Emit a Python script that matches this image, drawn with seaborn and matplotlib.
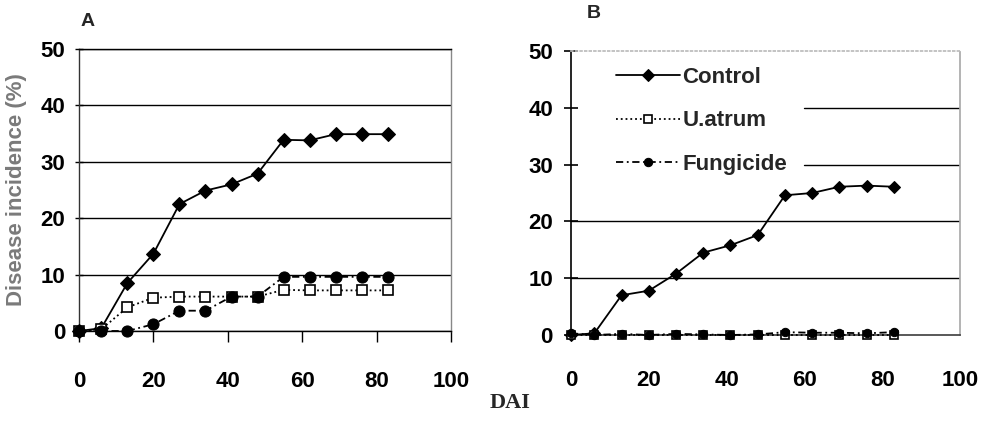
import matplotlib
matplotlib.use("Agg")
import matplotlib.pyplot as plt
import seaborn as sns
import pandas as pd

days = [0, 6, 13, 20, 27, 34, 41, 48, 55, 62, 69, 76, 83]
a_control = [0, 0.5, 8.5, 13.7, 22.5, 24.9, 26.0, 27.9, 33.9, 33.8, 34.9, 34.9, 34.9]
a_uatrum = [0, 0.3, 4.2, 5.9, 6.1, 6.1, 6.1, 6.1, 7.3, 7.2, 7.2, 7.2, 7.2]
a_fungicide = [0, 0, 0, 1.2, 3.6, 3.6, 6.1, 6.1, 9.6, 9.6, 9.6, 9.6, 9.6]
b_control = [0, 0.3, 7.0, 7.8, 10.8, 14.5, 15.8, 17.6, 24.6, 25.0, 26.1, 26.3, 26.1]
b_uatrum = [0, 0, 0, 0, 0, 0, 0, 0, 0, 0, 0, 0, 0]
b_fungicide = [0.3, 0, 0.2, 0, 0.2, 0.1, 0, 0.1, 0.5, 0.4, 0.4, 0.3, 0.5]
series_names = ["Control", "U.atrum", "Fungicide"]
x_ticks = [0, 20, 40, 60, 80, 100]
y_ticks = [0, 10, 20, 30, 40, 50]

sns.set_theme(style="white")
plt.rcParams["font.family"] = ["Liberation Sans", "DejaVu Sans"]
plt.rcParams["font.weight"] = "bold"

fig = plt.figure(figsize=(9.89, 4.21), dpi=100)
axA = fig.add_axes([79/989, 1-331/421, 372/989, 282/421])
axB = fig.add_axes([571/989, 1-335/421, 389/989, 284/421])

styles = [
    dict(marker="D", linestyle="-", mfc="black", mec="black"),
    dict(marker="s", linestyle=":", mfc="white", mec="black", mew=1.2),
    dict(marker="o", linestyle=(0, (4, 2, 1, 2)), mfc="black", mec="black"),
]

def draw(ax, data, lw, msizes):
    for name, vals, st, ms in zip(series_names, data, styles, msizes):
        df = pd.DataFrame({"DAI": days, "val": vals})
        st = dict(st)
        st["markersize"] = ms
        sns.lineplot(data=df, x="DAI", y="val", ax=ax, color="black",
                     linewidth=lw, label=name, clip_on=False, zorder=3, **st)

draw(axA, [a_control, a_uatrum, a_fungicide], 1.3, [7, 7, 8])
draw(axB, [b_control, b_uatrum, b_fungicide], 2.6, [5, 6, 9])

for ax in (axA, axB):
    ax.set_xlim(0, 100)
    ax.set_ylim(0, 50)
    ax.set_xticks(x_ticks)
    ax.set_yticks(y_ticks)
    ax.set_xlabel("")
    ax.set_ylabel("")
    ax.tick_params(axis="both", labelsize=16, colors="black")
    for lab in ax.get_xticklabels() + ax.get_yticklabels():
        lab.set_fontweight("bold")
    ax.set_facecolor("white")

# Panel A styling
axA.yaxis.grid(True, color="black", linewidth=1.0)
axA.set_axisbelow(True)
axA.tick_params(axis="x", direction="out", length=8, width=1, pad=21, bottom=True)
axA.tick_params(axis="y", direction="inout", length=6, width=1, pad=7, left=True)
axA.spines["left"].set_color("#333333")
axA.spines["bottom"].set_color("black")
axA.spines["top"].set_color("black")
axA.spines["right"].set_color("#888888")
for s in axA.spines.values():
    s.set_linewidth(1.0)
axA.legend_.remove()

# Panel B styling
for yv in (10, 20):
    axB.axhline(yv, color="black", linewidth=1.0, zorder=0.5)
for yv in (30, 40):
    axB.axhline(yv, xmin=0.60, color="black", linewidth=1.0, zorder=0.5)
axB.tick_params(axis="x", length=0, pad=25, bottom=False)
axB.tick_params(axis="y", direction="inout", length=10, width=1.2, pad=8, left=True)
axB.spines["left"].set_color("black")
axB.spines["left"].set_linewidth(1.2)
axB.spines["bottom"].set_color("#444444")
axB.spines["top"].set_color("#bbbbbb")
axB.spines["top"].set_linestyle(":")
axB.spines["right"].set_color("#aaaaaa")
axB.spines["right"].set_linestyle((0, (3, 1)))

handles, labels = axB.get_legend_handles_labels()
for h in handles:
    h.set_linewidth(1.3)
    h.set_markersize(6)
axB.legend(handles, labels, loc="upper left", bbox_to_anchor=(0.075, 0.998),
           frameon=False, handlelength=2.9, handletextpad=0.1,
           labelspacing=1.0, borderpad=0.2,
           prop={"weight": "bold", "size": 16, "family": "Liberation Sans"})

fig.text(88/989, 1-22/421, "A", fontsize=14, fontweight="bold", ha="center", va="center")
fig.text(594/989, 1-14/421, "B", fontsize=14, fontweight="bold", ha="center", va="center")
fig.text(510/989, 1-403/421, "DAI", fontsize=16, fontweight="bold",
         family=["Liberation Serif", "DejaVu Serif"], ha="center", va="center")
fig.text(17/989, 1-190/421, "Disease incidence (%)", rotation=90, fontsize=16,
         fontweight="bold", color="#7a7a7a", ha="center", va="center")

fig.savefig("out.png", dpi=100, facecolor="white")
